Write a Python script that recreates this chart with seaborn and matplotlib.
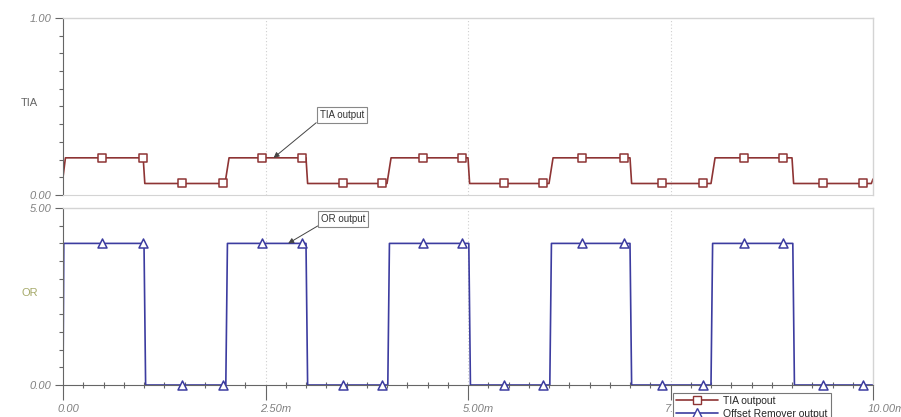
import numpy as np
import seaborn as sns
import pandas as pd
import matplotlib.pyplot as plt
import matplotlib.transforms as mtransforms
from matplotlib.lines import Line2D
from matplotlib.ticker import MultipleLocator

# waveform vertices (time in ms, level in V)
tia_t = [0.0, 0.03, 0.99, 1.01, 2.0, 2.05, 3.0, 3.02, 4.0, 4.05, 5.0, 5.02,
         6.0, 6.05, 7.0, 7.02, 8.0, 8.05, 9.0, 9.02, 9.98, 10.0]
tia_v = [0.10, 0.21, 0.21, 0.065, 0.065, 0.21, 0.21, 0.065, 0.065, 0.21, 0.21, 0.065,
         0.065, 0.21, 0.21, 0.065, 0.065, 0.21, 0.21, 0.065, 0.065, 0.09]

or_t = [0.0, 0.01, 1.0, 1.02, 2.01, 2.03, 3.0, 3.02, 4.01, 4.03, 5.01, 5.03,
        6.01, 6.03, 7.0, 7.02, 8.0, 8.02, 9.01, 9.03, 10.0]
or_v = [0.0, 4.0, 4.0, 0.0, 0.0, 4.0, 4.0, 0.0, 0.0, 4.0, 4.0, 0.0,
        0.0, 4.0, 4.0, 0.0, 0.0, 4.0, 4.0, 0.0, 0.0]

# marker positions
mk_t = [0.48, 0.99, 1.47, 1.98, 2.46, 2.95, 3.46, 3.94, 4.45, 4.93,
        5.44, 5.93, 6.41, 6.92, 7.40, 7.90, 8.41, 8.89, 9.38, 9.88]
tia_mk = [0.21, 0.21, 0.065, 0.065, 0.21, 0.21, 0.065, 0.065, 0.21, 0.21,
          0.065, 0.065, 0.21, 0.21, 0.065, 0.065, 0.21, 0.21, 0.065, 0.065]
or_mk = [4.0, 4.0, 0.0, 0.0, 4.0, 4.0, 0.0, 0.0, 4.0, 4.0,
         0.0, 0.0, 4.0, 4.0, 0.0, 0.0, 4.0, 4.0, 0.0, 0.0]

x_ticks = [0, 2.5, 5, 7.5, 10]
x_labels = ['0.00', '2.50m', '5.00m', '7.50m', '10.00m']

tia_col = '#8e3434'
or_col = '#3c3ca0'
light = '#d4d4d4'
dark = '#666666'

sns.set_style("white")
plt.rcParams['font.family'] = ['Liberation Sans', 'DejaVu Sans']

fig = plt.figure(figsize=(9.01, 4.17), dpi=100)
ax1 = fig.add_axes([63/901, 1-195/417, 810/901, 177/417])
ax2 = fig.add_axes([63/901, 1-385/417, 810/901, 177/417])

df_tia = pd.DataFrame({'t': tia_t, 'v': tia_v})
df_or = pd.DataFrame({'t': or_t, 'v': or_v})
df_mk = pd.DataFrame({'t': mk_t, 'tia': tia_mk, 'or': or_mk})

sns.lineplot(data=df_tia, x='t', y='v', sort=False, estimator=None, color=tia_col, lw=1.2, ax=ax1)
sns.scatterplot(data=df_mk, x='t', y='tia', marker='s', s=32, facecolor='white',
                edgecolor=tia_col, linewidth=1.1, ax=ax1, zorder=3, clip_on=False)
sns.lineplot(data=df_or, x='t', y='v', sort=False, estimator=None, color=or_col, lw=1.2, ax=ax2)
sns.scatterplot(data=df_mk, x='t', y='or', marker='^', s=42, facecolor='white',
                edgecolor=or_col, linewidth=1.1, ax=ax2, zorder=3, clip_on=False)

for ax, top in [(ax1, 1.0), (ax2, 5.0)]:
    ax.set_xlim(0, 10)
    ax.set_ylim(0, top)
    ax.set_xlabel('')
    ax.set_ylabel('')
    for xv in [2.5, 5.0, 7.5]:
        ax.axvline(xv, color='#cfcfcf', lw=0.8, ls=(0, (1, 2)), zorder=0)
    ax.spines['left'].set_color(dark)
    for s in ['top', 'right']:
        ax.spines[s].set_color(light)
        ax.spines[s].set_linewidth(1.0)
    ax.set_yticks([0, top])
    ax.set_yticklabels(['0.00', f'{top:.2f}'])
    ax.yaxis.set_minor_locator(MultipleLocator(top / 10))
    ax.tick_params(axis='y', which='major', direction='out', length=6, width=0.8,
                   color=dark, labelsize=8, labelcolor='#808080', pad=2, left=True)
    ax.tick_params(axis='y', which='minor', direction='out', length=3, width=0.8,
                   color=dark, left=True)
    for lab in ax.get_yticklabels():
        lab.set_fontstyle('italic')

ax1.spines['bottom'].set_color(light)
ax1.set_xticks([])
ax2.spines['bottom'].set_color(dark)
ax2.set_xticks(x_ticks)
ax2.set_xticklabels(x_labels)
ax2.xaxis.set_minor_locator(MultipleLocator(0.25))
ax2.tick_params(axis='x', which='major', direction='out', length=11, width=0.8,
                color=dark, labelsize=8, labelcolor='#808080', pad=3, bottom=True)
ax2.tick_params(axis='x', which='minor', direction='inout', length=4, width=0.8,
                color=dark, bottom=True)
offset = mtransforms.ScaledTranslation(-4/72, 0, fig.dpi_scale_trans)
for lab in ax2.get_xticklabels():
    lab.set_fontstyle('italic')
    lab.set_ha('left')
    lab.set_transform(lab.get_transform() + offset)

fig.text(29/901, 1-103/417, 'TIA', ha='center', va='center', fontsize=8, color='#666666')
fig.text(30/901, 1-293/417, 'OR', ha='center', va='center', fontsize=8, color='#a6aa6a')

ax1.annotate('TIA output', xy=(2.6, 0.21), xytext=(3.44, 0.452), ha='center', va='center',
             fontsize=7, color='#333333',
             bbox=dict(boxstyle='square,pad=0.3', fc='white', ec='#888888', lw=0.8),
             arrowprops=dict(arrowstyle='-|>', color='#444444', lw=0.7, relpos=(0, 0),
                             shrinkA=0, shrinkB=0, mutation_scale=8))
ax2.annotate('OR output', xy=(2.78, 4.0), xytext=(3.46, 4.69), ha='center', va='center',
             fontsize=7, color='#333333',
             bbox=dict(boxstyle='square,pad=0.3', fc='white', ec='#888888', lw=0.8),
             arrowprops=dict(arrowstyle='-|>', color='#444444', lw=0.7, relpos=(0, 0),
                             shrinkA=0, shrinkB=0, mutation_scale=8))

handles = [Line2D([], [], color=tia_col, lw=1.2, marker='s', markersize=6,
                  markerfacecolor='white', markeredgecolor=tia_col),
           Line2D([], [], color=or_col, lw=1.2, marker='^', markersize=6.5,
                  markerfacecolor='white', markeredgecolor=or_col)]
leg = fig.legend(handles, ['TIA outpout', 'Offset Remover output'], loc='upper left',
                 bbox_to_anchor=(673/901, 1-393/417), fontsize=7.5, frameon=True,
                 fancybox=False, edgecolor='#777777', framealpha=1, handlelength=4,
                 handletextpad=0.5, borderpad=0.3, labelspacing=0.25, borderaxespad=0)
leg.get_frame().set_linewidth(0.8)

fig.savefig('out.png', dpi=100)
